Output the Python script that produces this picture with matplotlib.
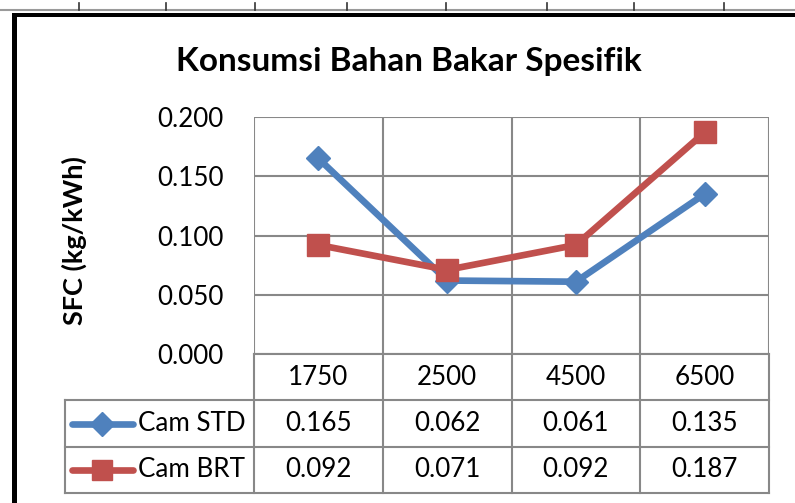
import matplotlib
matplotlib.use("Agg")
import matplotlib.pyplot as plt
from matplotlib.lines import Line2D
from matplotlib.patches import Rectangle

# ---- data ----
categories = ["1750", "2500", "4500", "6500"]
cam_std = [0.165, 0.062, 0.061, 0.135]
cam_brt = [0.092, 0.071, 0.092, 0.187]
series_names = ["Cam STD", "Cam BRT"]
yticks = [0.0, 0.05, 0.10, 0.15, 0.20]
title = "Konsumsi Bahan Bakar Spesifik"
ylabel = "SFC (kg/kWh)"

BLUE = "#4F81BD"
RED = "#C0504D"
GRID = "#888888"
FONT = "Lato"

W, H = 795, 503
fig = plt.figure(figsize=(W / 100, H / 100), dpi=100)

def fx(px):
    return px / W

def fy(py):
    return 1 - py / H

# layout in pixels
PL, PR, PT, PB = 254, 769, 117, 354   # plot area
TL, TB = 65, 493                      # table left / bottom

ax = fig.add_axes([fx(PL), fy(PB), fx(PR) - fx(PL), fy(PT) - fy(PB)])
n = len(categories)
ax.set_xlim(0, n)
ax.set_ylim(0, 0.2)
for s in ax.spines.values():
    s.set_visible(False)
ax.set_xticks([])
ax.set_yticks(yticks)
ax.set_yticklabels([f"{v:.3f}" for v in yticks], fontfamily=FONT, fontsize=18.7)
ax.tick_params(axis="y", length=0, pad=22)

for v in yticks[1:]:
    ax.axhline(v, color=GRID, lw=1.5, zorder=1)
for i in range(n + 1):
    ax.axvline(i, color=GRID, lw=1.5, zorder=1)
ax.axhline(0, color=GRID, lw=1.5, zorder=1)

xs = [i + 0.5 for i in range(n)]
ax.plot(xs, cam_std, color=BLUE, lw=4.8, marker="D", ms=12.5,
        mfc=BLUE, mec=BLUE, zorder=3, clip_on=False)
ax.plot(xs, cam_brt, color=RED, lw=4.8, marker="s", ms=16,
        mfc=RED, mec=RED, zorder=4, clip_on=False)

# ---- data table ----
tax = fig.add_axes([fx(TL), fy(TB), fx(PR) - fx(TL), fy(PB) - fy(TB)])
colw = (PR - PL) / n
xleft = -(PL - TL) / colw
tax.set_xlim(xleft, n)
tax.set_ylim(3, 0)
tax.axis("off")

# horizontal lines
tax.plot([0, n], [0, 0], color=GRID, lw=1.5, clip_on=False)
for r in (1, 2, 3):
    tax.plot([xleft, n], [r, r], color=GRID, lw=1.5, clip_on=False)
# vertical lines
tax.plot([xleft, xleft], [1, 3], color=GRID, lw=1.5, clip_on=False)
for i in range(n + 1):
    tax.plot([i, i], [0, 3], color=GRID, lw=1.5, clip_on=False)

for i, c in enumerate(categories):
    tax.text(i + 0.5, 0.5, c, ha="center", va="center",
             fontfamily=FONT, fontsize=18.7)
for r, (vals, name, col, mk, ms) in enumerate(
        [(cam_std, series_names[0], BLUE, "D", 12.5),
         (cam_brt, series_names[1], RED, "s", 14)], start=1):
    for i, v in enumerate(vals):
        tax.text(i + 0.5, r + 0.5, f"{v:.3f}", ha="center", va="center",
                 fontfamily=FONT, fontsize=18.7)
    lx0 = (72 - PL) / colw
    lx1 = (133 - PL) / colw
    lxm = (102 - PL) / colw
    tax.plot([lx0, lx1], [r + 0.5, r + 0.5], color=col, lw=4.8,
             solid_capstyle="round", clip_on=False)
    tax.plot([lxm], [r + 0.5], marker=mk, ms=ms, color=col, mec=col,
             clip_on=False)
    tax.text((138 - PL) / colw, r + 0.5, name, ha="left", va="center",
             fontfamily=FONT, fontsize=18.7)

# ---- titles ----
fig.text(fx(409), fy(71), title, ha="center", va="baseline",
         fontfamily=FONT, fontweight="bold", fontsize=24)
fig.text(fx(74), fy(241), ylabel, ha="center", va="center", rotation=90,
         fontfamily=FONT, fontweight="bold", fontsize=19.5)

# ---- surrounding frame (sheet edge) ----
fig.add_artist(Rectangle((fx(12), 0), fx(17) - fx(12), fy(13), color="black",
                         transform=fig.transFigure, lw=0))
fig.add_artist(Rectangle((fx(12), fy(17)), 1 - fx(12), fy(13) - fy(17),
                         color="black", transform=fig.transFigure, lw=0))
fig.add_artist(Line2D([0, 1], [fy(10), fy(10)], color="#9A9A9A", lw=1.5,
                      transform=fig.transFigure))
for tx in (79, 166, 255, 347, 446, 547, 634, 724):
    fig.add_artist(Line2D([fx(tx), fx(tx)], [fy(3), fy(10)], color="#333333",
                          lw=1.2, transform=fig.transFigure))

fig.savefig("out.png", dpi=100)
